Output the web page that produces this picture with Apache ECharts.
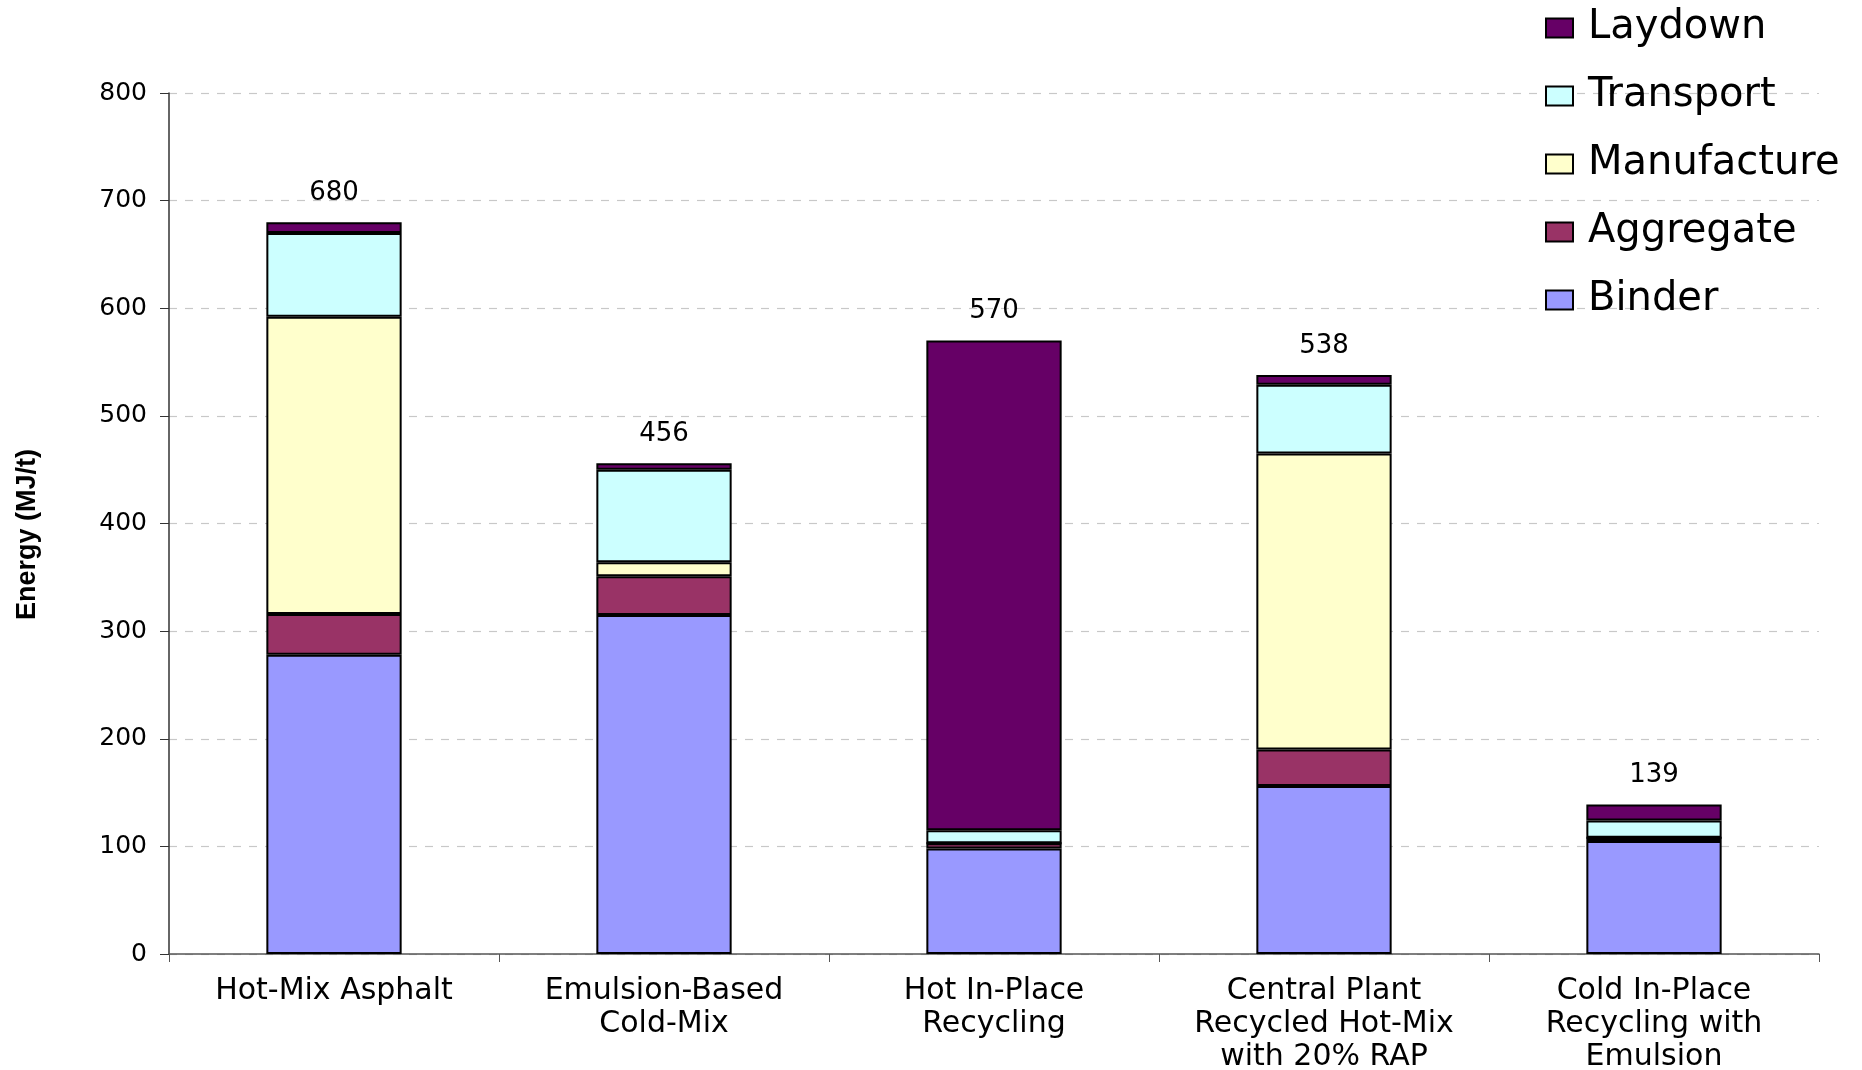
<!DOCTYPE html>
<html>
<head>
<meta charset="utf-8">
<script src="https://cdn.jsdelivr.net/npm/echarts@6/dist/echarts.min.js"></script>
<style>
html,body{margin:0;padding:0;background:#fff;}
#chart{width:1862px;height:1070px;}
</style>
</head>
<body>
<div id="chart"></div>
<script>
var categories = [
  "Hot-Mix Asphalt",
  "Emulsion-Based\nCold-Mix",
  "Hot In-Place\nRecycling",
  "Central Plant\nRecycled Hot-Mix\nwith 20% RAP",
  "Cold In-Place\nRecycling with\nEmulsion"
];
var binder      = [278, 315, 98, 156, 105];
var aggregate   = [38, 36, 5, 34, 3];
var manufacture = [276, 13, 0, 275, 0];
var transport   = [78, 86, 12, 64, 16];
var laydown     = [10, 6, 455, 9, 15];
var totals      = [680, 456, 570, 538, 139];
var yTicks      = [0, 100, 200, 300, 400, 500, 600, 700, 800];

var FONT = "DejaVu Sans";
var colors = {
  Binder: "#9999FF",
  Aggregate: "#993366",
  Manufacture: "#FFFFCC",
  Transport: "#CCFFFF",
  Laydown: "#660066"
};

function mk(name, data, withLabel) {
  var s = {
    name: name,
    type: "bar",
    stack: "total",
    barWidth: "41%",
    data: data,
    itemStyle: { color: colors[name], borderColor: "#000", borderWidth: 2 },
    emphasis: { disabled: true }
  };
  if (withLabel) {
    s.label = {
      show: true,
      position: "top",
      distance: 16,
      color: "#000",
      fontFamily: FONT,
      fontSize: 26,
      formatter: function (p) { return totals[p.dataIndex]; }
    };
  }
  return s;
}

var chart = echarts.init(document.getElementById("chart"));
chart.setOption({
  animation: false,
  backgroundColor: "#fff",
  grid: { left: 169, right: 43, top: 93, bottom: 116, containLabel: false, outerBoundsMode: "none" },
  legend: {
    orient: "vertical",
    left: 1540,
    top: 3,
    itemWidth: 27,
    itemHeight: 19,
    itemGap: 28,
    icon: "rect",
    itemStyle: { borderColor: "#000", borderWidth: 2 },
    textStyle: { fontFamily: FONT, fontSize: 40, lineHeight: 40, color: "#000", padding: [0, 0, 0, 10] },
    data: ["Laydown", "Transport", "Manufacture", "Aggregate", "Binder"]
  },
  xAxis: {
    type: "category",
    data: categories,
    axisLine: { lineStyle: { color: "#555", width: 1.5 } },
    axisTick: { show: true, length: 8, lineStyle: { color: "#555" } },
    axisLabel: {
      color: "#000",
      fontFamily: FONT,
      fontSize: 30,
      lineHeight: 33,
      margin: 21,
      interval: 0
    }
  },
  yAxis: {
    type: "value",
    min: yTicks[0],
    max: yTicks[yTicks.length - 1],
    interval: 100,
    name: "Energy (MJ/t)",
    nameLocation: "middle",
    nameGap: 128,
    nameTextStyle: { fontFamily: "Liberation Sans", fontWeight: "bold", fontSize: 27, color: "#000", padding: [0, 22, 0, 0] },
    axisLine: { show: true, lineStyle: { color: "#333", width: 1.5 } },
    axisTick: { show: true, length: 9, lineStyle: { color: "#333" } },
    axisLabel: { color: "#000", fontFamily: FONT, fontSize: 25, margin: 22 },
    splitLine: { show: true, lineStyle: { color: "#c8c8c8", type: [8, 8], width: 1.2 } }
  },
  series: [
    mk("Binder", binder),
    mk("Aggregate", aggregate),
    mk("Manufacture", manufacture),
    mk("Transport", transport),
    mk("Laydown", laydown, true)
  ]
});
</script>
</body>
</html>
